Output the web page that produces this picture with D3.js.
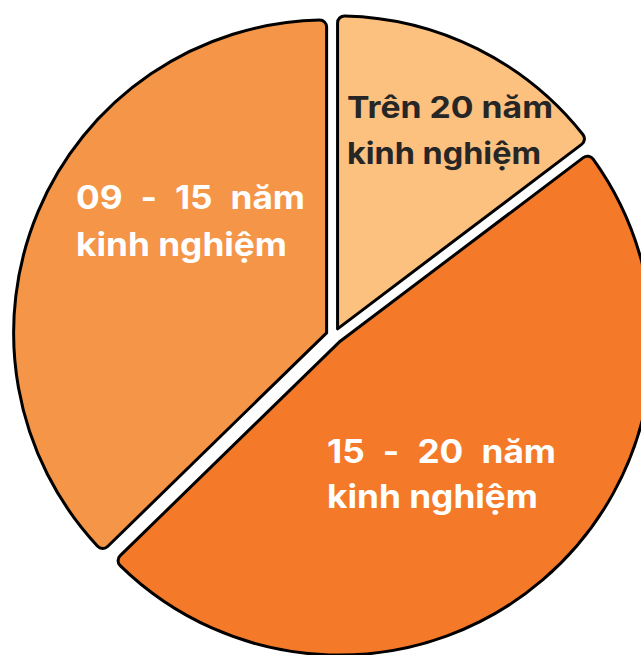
<!DOCTYPE html>
<html>
<head>
<meta charset="utf-8">
<script src="https://cdn.jsdelivr.net/npm/d3@7"></script>
<style>
  body { margin: 0; background: #fff; }
  svg { display: block; }
  .lbl { font-family: Inter, 'Open Sans', sans-serif; font-weight: 700; }
</style>
</head>
<body>
<svg id="chart"></svg>
<script>
// data
var categories = ['Trên 20 năm kinh nghiệm', '15 - 20 năm kinh nghiệm', '09 - 15 năm kinh nghiệm'];
var values = [14.7, 48.0, 37.3];
var colors = ['#FCC07F', '#F47929', '#F49547'];
var labelLines = [
    ['Trên 20 năm', 'kinh nghiệm'],
    ['15 - 20 năm', 'kinh nghiệm'],
    ['09 - 15 năm', 'kinh nghiệm']
];

// layout
var width = 641, height = 655;
var cx = 334, cy = 336, radius = 313, explode = 8;

// text boxes, relative to the pie centre
var labelBoxes = [
    { dx: 13,   dy: -218, lead: 46, widths: [206, 194], justify: false, color: '#262626', size: 30 },
    { dx: -7,   dy: 127,  lead: 45, widths: [229, 211], justify: true,  color: '#ffffff', size: 32 },
    { dx: -258, dy: -127, lead: 47, widths: [229, 211], justify: true,  color: '#ffffff', size: 32 }
];

var svg = d3.select('#chart')
    .attr('width', width)
    .attr('height', height);

var pie = d3.pie().sort(null).value(function(d) { return d; });
var arcs = pie(values);
var arc = d3.arc().innerRadius(0).outerRadius(radius).cornerRadius(7);

var g = svg.append('g')
    .attr('transform', 'translate(' + cx + ',' + cy + ')');

g.selectAll('path.slice')
    .data(arcs)
    .enter()
    .append('path')
    .attr('class', 'slice')
    .attr('d', arc)
    .attr('transform', function(d) {
        var a = (d.startAngle + d.endAngle) / 2;
        return 'translate(' + (Math.sin(a) * explode) + ',' + (-Math.cos(a) * explode) + ')';
    })
    .attr('fill', function(d, i) { return colors[i]; })
    .attr('stroke', '#000')
    .attr('stroke-width', 3)
    .attr('stroke-linejoin', 'round')
    .append('title')
    .text(function(d, i) { return categories[i]; });

// measure a string with the label font
function measure(str, size) {
    var t = svg.append('text').attr('class', 'lbl').attr('font-size', size).text(str);
    var w = t.node().getComputedTextLength();
    t.remove();
    return w;
}

labelLines.forEach(function(lines, i) {
    var box = labelBoxes[i];
    var lg = g.append('g').attr('class', 'label');
    var last = lines[lines.length - 1];
    var sx = box.widths[lines.length - 1] / measure(last, box.size);

    lines.forEach(function(line, j) {
        var y = box.dy + j * box.lead;
        var W = box.widths[j];
        if (box.justify && j < lines.length - 1) {
            var words = line.split(' ');
            var ws = words.map(function(w) { return measure(w, box.size) * sx; });
            var gap = (W - d3.sum(ws)) / (words.length - 1);
            var x = box.dx;
            words.forEach(function(w, k) {
                lg.append('text')
                    .attr('class', 'lbl')
                    .attr('x', x)
                    .attr('y', y)
                    .attr('font-size', box.size)
                    .attr('fill', box.color)
                    .attr('textLength', ws[k])
                    .attr('lengthAdjust', 'spacingAndGlyphs')
                    .text(w);
                x += ws[k] + gap;
            });
        } else {
            lg.append('text')
                .attr('class', 'lbl')
                .attr('x', box.dx)
                .attr('y', y)
                .attr('font-size', box.size)
                .attr('fill', box.color)
                .attr('textLength', W)
                .attr('lengthAdjust', 'spacingAndGlyphs')
                .text(line);
        }
    });
});
</script>
</body>
</html>
